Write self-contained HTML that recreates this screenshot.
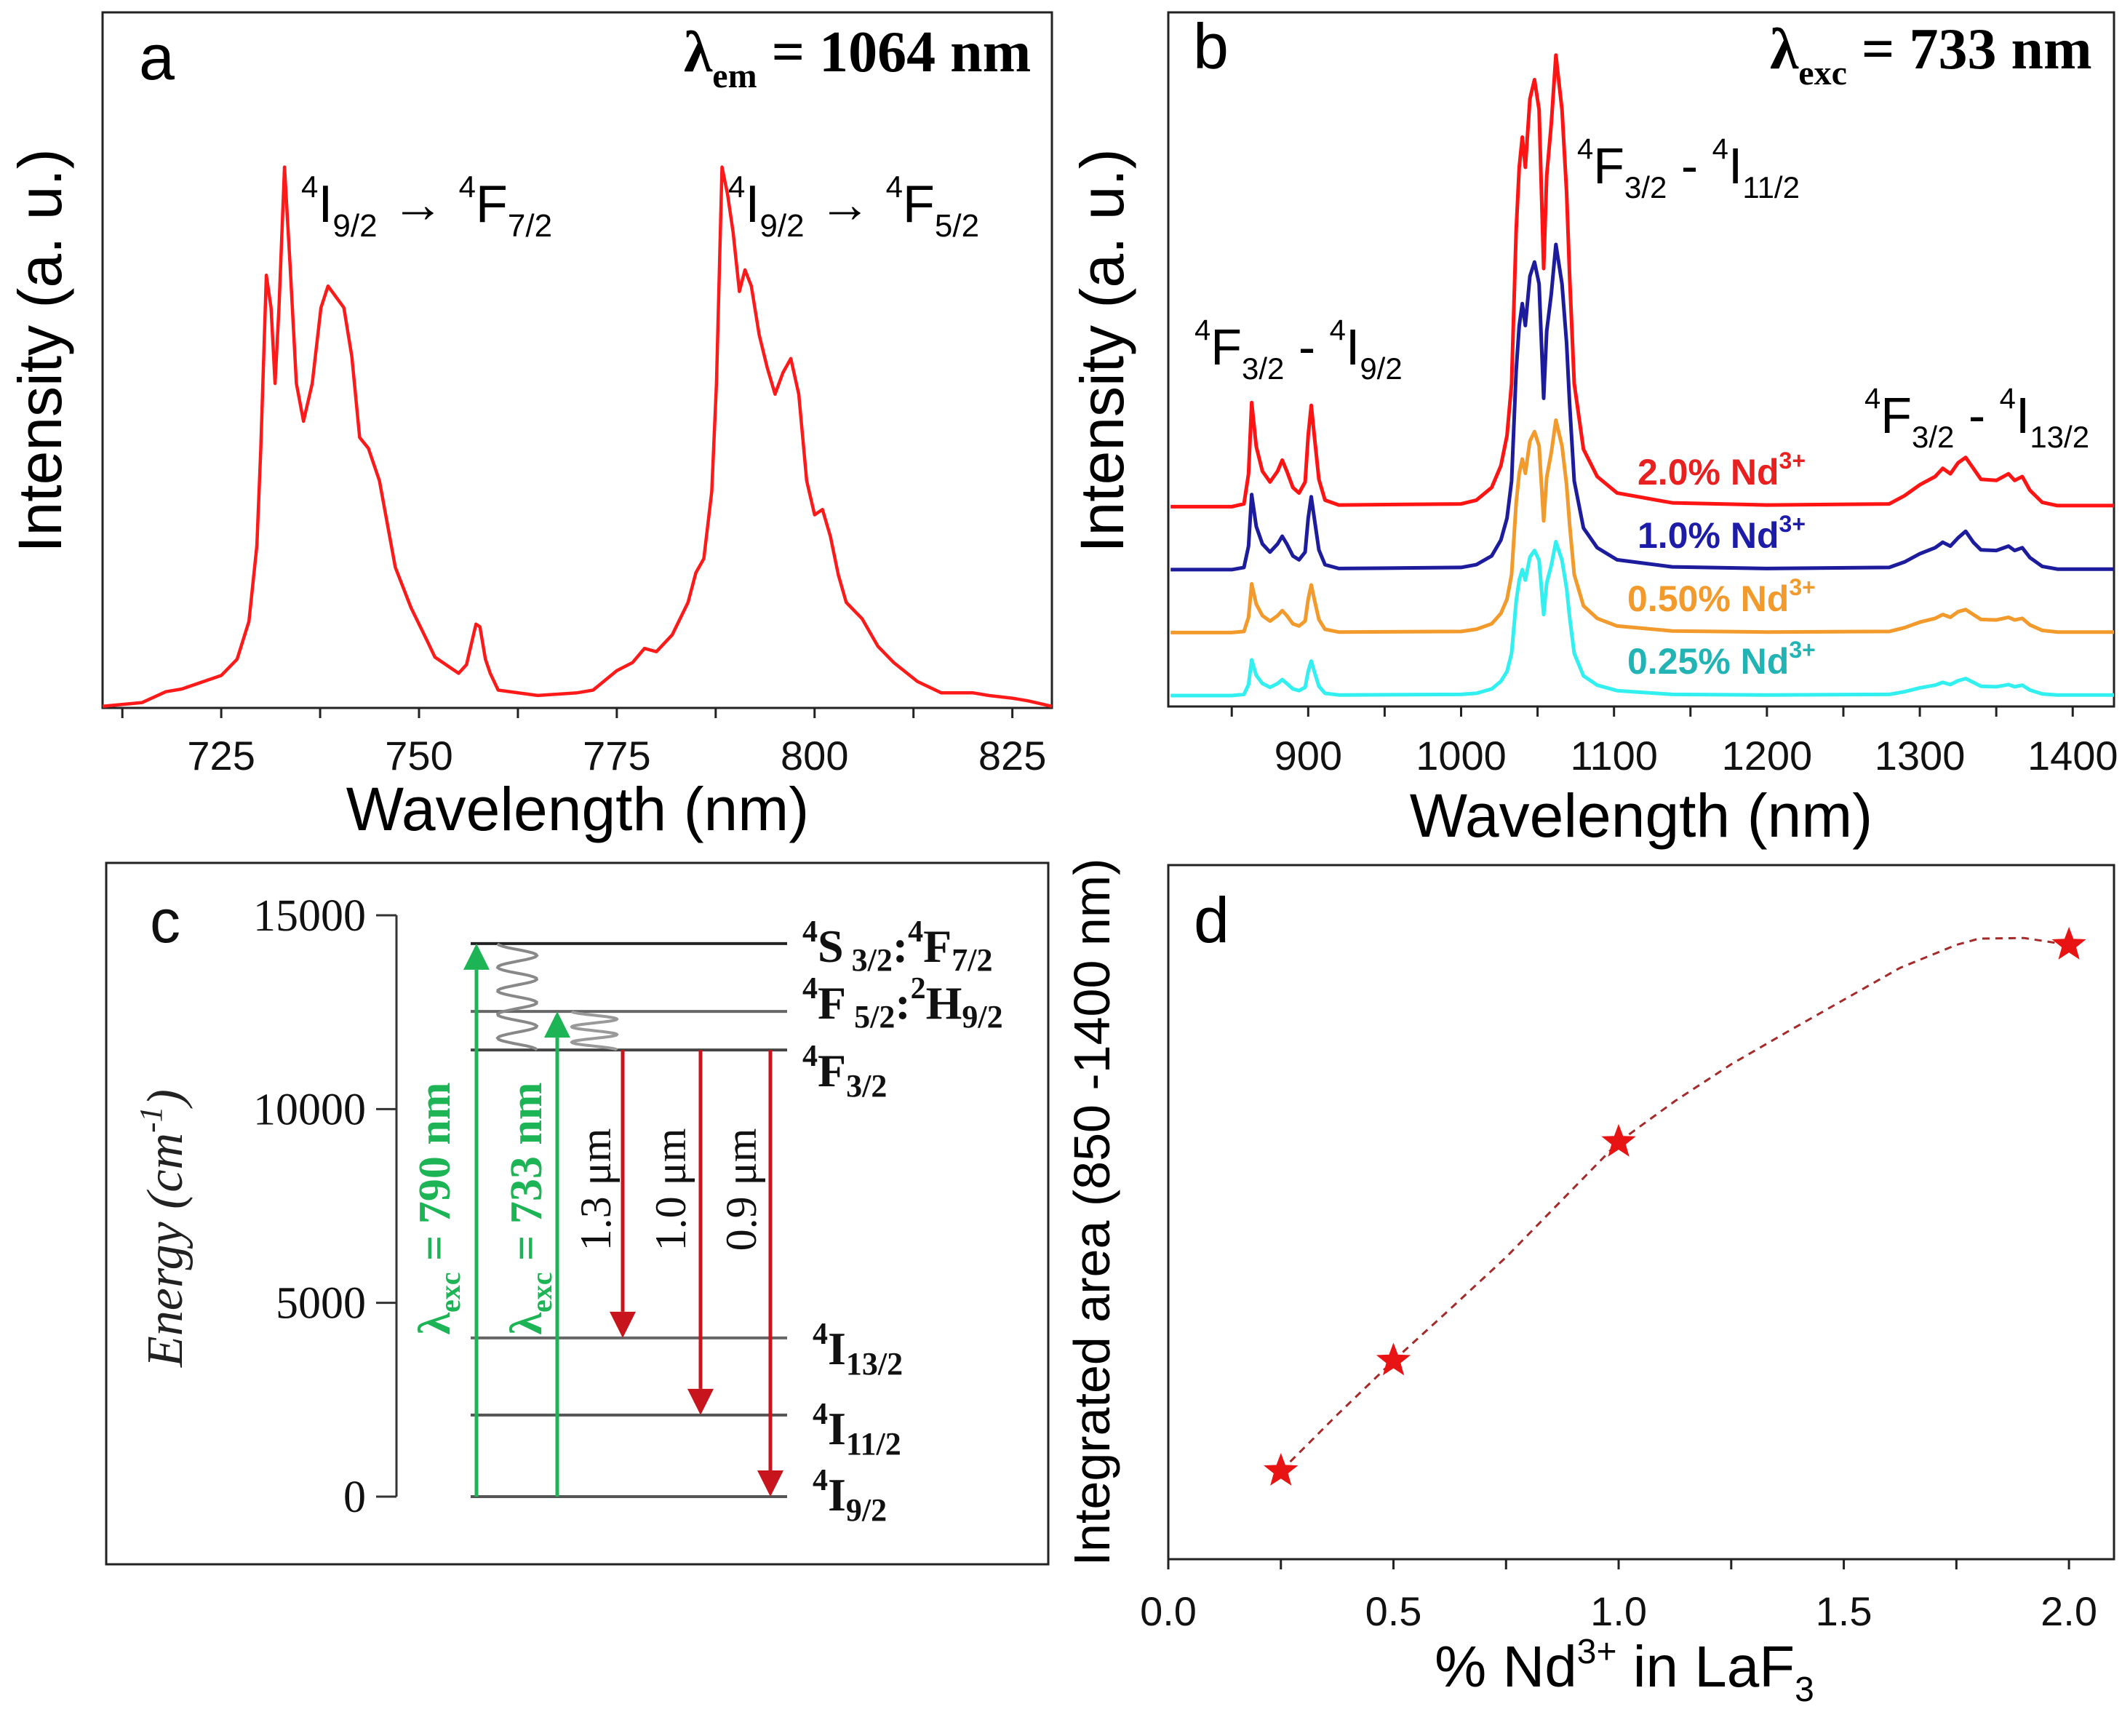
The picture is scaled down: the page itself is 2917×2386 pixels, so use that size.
<!DOCTYPE html>
<html><head><meta charset="utf-8"><style>
html,body{margin:0;padding:0;background:#fff;}
svg{display:block;}
.sans{font-family:"Liberation Sans",Arial,sans-serif;}
.serif{font-family:"Liberation Serif","Times New Roman",serif;}
</style></head><body>
<svg id="fig" xmlns="http://www.w3.org/2000/svg" width="2917" height="2386" viewBox="0 0 2917 2386">
<rect x="0" y="0" width="2917" height="2386" fill="#fff"/>
<g id="pa"></g>
<g id="pb"></g>
<g id="pc"></g>
<g id="pd"></g>

<text class="sans" x="191" y="109" font-size="88">a</text>
<text class="serif" x="940" y="98" font-size="80" font-weight="bold">λ<tspan font-size="48" dy="22">em</tspan><tspan dy="-22"> = 1064 nm</tspan></text>
<text class="sans" x="414" y="305" font-size="72"><tspan font-size="42" dy="-34">4</tspan><tspan dy="34">I</tspan><tspan font-size="44" dy="20">9/2</tspan><tspan dy="-20"> → </tspan><tspan font-size="42" dy="-34">4</tspan><tspan dy="34">F</tspan><tspan font-size="44" dy="20">7/2</tspan></text>
<text class="sans" x="1001" y="305" font-size="72"><tspan font-size="42" dy="-34">4</tspan><tspan dy="34">I</tspan><tspan font-size="44" dy="20">9/2</tspan><tspan dy="-20"> → </tspan><tspan font-size="42" dy="-34">4</tspan><tspan dy="34">F</tspan><tspan font-size="44" dy="20">5/2</tspan></text>
<text class="sans" x="794" y="1141" font-size="84" text-anchor="middle">Wavelength (nm)</text>
<text class="sans" transform="translate(84,482) rotate(-90)" font-size="84" text-anchor="middle">Intensity (a. u.)</text>

<text class="sans" x="1640" y="94" font-size="88">b</text>
<text class="serif" x="2433" y="94" font-size="80" font-weight="bold">λ<tspan font-size="48" dy="22">exc</tspan><tspan dy="-22"> = 733 nm</tspan></text>
<text class="sans" x="2168" y="252" font-size="70"><tspan font-size="40" dy="-34">4</tspan><tspan dy="34">F</tspan><tspan font-size="42" dy="20">3/2</tspan><tspan dy="-20"> - </tspan><tspan font-size="40" dy="-34">4</tspan><tspan dy="34">I</tspan><tspan font-size="42" dy="20">11/2</tspan></text>
<text class="sans" x="1642" y="501" font-size="70"><tspan font-size="40" dy="-34">4</tspan><tspan dy="34">F</tspan><tspan font-size="42" dy="20">3/2</tspan><tspan dy="-20"> - </tspan><tspan font-size="40" dy="-34">4</tspan><tspan dy="34">I</tspan><tspan font-size="42" dy="20">9/2</tspan></text>
<text class="sans" x="2563" y="595" font-size="70"><tspan font-size="40" dy="-34">4</tspan><tspan dy="34">F</tspan><tspan font-size="42" dy="20">3/2</tspan><tspan dy="-20"> - </tspan><tspan font-size="40" dy="-34">4</tspan><tspan dy="34">I</tspan><tspan font-size="42" dy="20">13/2</tspan></text>
<text class="sans" x="2256" y="1150" font-size="84" text-anchor="middle">Wavelength (nm)</text>
<text class="sans" transform="translate(1544,482) rotate(-90)" font-size="84" text-anchor="middle">Intensity (a. u.)</text>

<text class="sans" x="1641" y="1295" font-size="88">d</text>
<text class="sans" x="2233" y="2318" font-size="80" text-anchor="middle">% Nd<tspan font-size="48" dy="-32">3+</tspan><tspan dy="32"> in LaF</tspan><tspan font-size="48" dy="20">3</tspan></text>
<text class="sans" transform="translate(1525,1666) rotate(-90)" font-size="70" text-anchor="middle">Integrated area  (850 -1400 nm)</text>
</svg>
<script>
// ---------------- Panel a data ----------------
const aWavelength=[710,715,718,720,725,727,728.5,729.5,730,730.7,731.3,731.8,732.3,733,733.7,734.5,735.4,736.5,737.6,738.5,739.5,740.5,741.5,742.5,743.6,745,746,747,749,751,752,754,755,756,757.2,757.7,758.4,759,760,765,770,772,775,777,778.5,780,782,784,785,786,787,787.6,788.3,789,789.7,790.5,791.2,792,793,794,795,796,797,798,799,800,801,802,803,804,806,808,810,813,816,820,822,825,827,830];
const aIntensity=[0.3,1,3,3.5,6,9,16,30,48,80,74,60,74,100,82,60,53,60,74,78,76,74,65,50,48,42,34,26,18.5,12.5,9.4,7.4,6.4,8,15.5,15,9,6.4,3.3,2.3,2.8,3.3,6.9,8.4,11,10.4,13.5,19.5,25,27.6,40,60,100,95,88,77,81,78,69,63,58,62,64.6,58,42,35.7,36.7,31.7,24.6,19.5,16.5,11.4,8.4,4.9,2.8,2.8,2.3,1.8,1.3,0.3];
const aTicks=[725,750,775,800,825];
const aTickLabels=["725","750","775","800","825"];

// ---------------- Panel b data ----------------
const bWavelength=[810,850,858,861,863,866,870,875,880,883,886,890,894,898,900,902,904,907,911,920,1000,1010,1020,1026,1030,1033,1036,1038,1040,1042,1045,1048,1051,1054,1056,1059,1062,1066,1069,1071,1074,1080,1089,1102,1138,1200,1280,1290,1300,1310,1315,1320,1325,1330,1335,1340,1350,1358,1362,1367,1372,1380,1390,1427];
const bRed=[0,0,5,60,190,110,65,45,65,85,65,35,25,45,130,185,130,50,12,3,5,12,35,75,130,225,505,620,675,620,745,780,725,435,605,700,825,725,575,420,225,105,55,25,7,3,5,20,40,55,70,60,80,90,70,50,48,60,48,55,30,8,2,2];
const bBlue=[0,0,4,43,137,79,47,32,47,61,47,25,18,32,94,133,94,36,9,2,4,9,25,54,94,162,364,446,486,446,536,562,522,313,436,504,594,522,414,302,162,76,40,18,5,2,4,14,29,40,50,43,58,70,50,36,35,43,35,40,22,6,1,1];
const bOrange=[0,0,2,28,89,52,31,21,31,40,31,16,12,21,61,87,61,24,6,1,2,6,16,35,61,106,237,291,317,291,350,367,341,204,284,329,388,341,270,197,106,49,26,12,3,1,2,9,19,26,33,28,38,42,33,24,23,28,23,26,14,4,1,1];
const bCyan=[0,0,2,20,65,37,22,15,22,29,22,12,9,15,44,63,44,17,4,1,2,4,12,26,44,77,172,211,230,211,253,265,247,148,206,238,281,247,196,143,77,36,19,9,2,1,2,7,14,19,24,20,27,31,24,17,16,20,16,19,10,3,1,1];
const bOffsets=[345,230,115,0];
const bSeriesNames=["2.0% Nd","1.0% Nd","0.50% Nd","0.25% Nd"];
const bTicks=[900,1000,1100,1200,1300,1400];
const bTickLabels=["900","1000","1100","1200","1300","1400"];

// ---------------- Panel c data ----------------
const cLevelNames=["4S3/2:4F7/2","4F5/2:2H9/2","4F3/2","4I13/2","4I11/2","4I9/2"];
const cLevelEnergy=[14270,12520,11525,4096,2106,0];
const cExcFrom=[0,0];
const cExcTo=[14270,12520];
const cEmFrom=[11525,11525,11525];
const cEmTo=[4096,2106,0];
const cTicks=[0,5000,10000,15000];
const cTickLabels=["0","5000","10000","15000"];

// ---------------- Panel d data ----------------
const dConc=[0.25,0.5,1.0,2.0];
const dArea=[12.7,28.6,60.1,88.5];
const dFitX=[0.25,0.375,0.5,0.625,0.75,0.875,1.0,1.125,1.25,1.375,1.5,1.625,1.75,1.8,1.9,2.0];
const dFitY=[12.7,20.8,28.6,36,43.5,51.8,60.1,66,71.3,76,80.6,85.2,88.5,89.4,89.5,88.5];
const dTicks=[0,0.5,1.0,1.5,2.0];
const dTickLabels=["0.0","0.5","1.0","1.5","2.0"];

const NS="http://www.w3.org/2000/svg";
function mk(tag,attrs,parent){const e=document.createElementNS(NS,tag);for(const k in attrs)e.setAttribute(k,attrs[k]);parent.appendChild(e);return e;}
function lin(d0,d1,r0,r1){return v=>r0+(v-d0)*(r1-r0)/(d1-d0);}
function richText(parent,parts){parts.forEach(p=>{const s=mk('tspan',p.a||{},parent);s.textContent=p.t;});}

// ===== Panel a =====
(function(){
 const g=document.getElementById('pa');
 const L=141,R=1446,T=17,B=973;
 const x=lin(710,830,L,R), y=lin(0,128.6,B,T);
 const fr=mk('rect',{x:L,y:T,width:R-L,height:B-T,fill:'none',stroke:'#222','stroke-width':3},g);
 
 
 for(let v=712.5;v<830;v+=12.5){const t=mk('line',{x1:x(v),x2:x(v),y1:B,y2:B+14,stroke:'#222','stroke-width':3},g);
  
  }
 aTicks.forEach((v,i)=>{const t=mk('text',{x:x(v),y:1058,'font-size':56,'text-anchor':'middle',class:'sans',fill:'#111'},g);t.textContent=aTickLabels[i];
  
  });
 const pts=aWavelength.map((w,i)=>x(w).toFixed(1)+','+y(aIntensity[i]).toFixed(1)).join(' ');
 const p=mk('polyline',{points:pts,fill:'none',stroke:'#ff1a1a','stroke-width':4.5,'stroke-linejoin':'round'},g);
 
 
})();

// ===== Panel b =====
(function(){
 const g=document.getElementById('pb');
 const L=1606,R=2906,T=17,B=971;
 const x=lin(808.5,1427,L,R), y=lin(-20,1248,B,T);
 const fr=mk('rect',{x:L,y:T,width:R-L,height:B-T,fill:'none',stroke:'#222','stroke-width':3},g);
 
 
 for(let v=850;v<=1400;v+=50){const t=mk('line',{x1:x(v),x2:x(v),y1:B,y2:B+14,stroke:'#222','stroke-width':3},g);
  
  }
 bTicks.forEach((v,i)=>{const t=mk('text',{x:x(v),y:1058,'font-size':56,'text-anchor':'middle',class:'sans',fill:'#111'},g);t.textContent=bTickLabels[i];
  
  });
 const series=[bRed,bBlue,bOrange,bCyan];
 const cols=['#ff1414','#1c1c9c','#f39a2c','#33f0f0'];
 const labCols=['#e82020','#1c1ca8','#f39a2c','#22b4b4'];
 const names=['series-2.0pct','series-1.0pct','series-0.50pct','series-0.25pct'];
 const labY=[666,753,840,926];
 const labX=[2251,2251,2237,2237];
 series.forEach((s,k)=>{
  const pts=bWavelength.map((w,i)=>x(w).toFixed(1)+','+y(s[i]+bOffsets[k]).toFixed(1)).join(' ');
  const p=mk('polyline',{points:pts,fill:'none',stroke:cols[k],'stroke-width':5,'stroke-linejoin':'round'},g);
  
  
  const t=mk('text',{x:labX[k],y:labY[k],'font-size':50,'font-weight':'bold',class:'sans',fill:labCols[k]},g);
  t.textContent=bSeriesNames[k];
  const sp=mk('tspan',{'font-size':32,dy:-22},t);sp.textContent='3+';
  
  
 });
})();

// ===== Panel c =====
(function(){
 const g=document.getElementById('pc');
 const fr=mk('rect',{x:146,y:1186,width:1295,height:964,fill:'none',stroke:'#222','stroke-width':3},g);
 
 
 const y=lin(0,15000,2057,1258);
 const ax=mk('line',{x1:545,x2:545,y1:y(15000),y2:y(0),stroke:'#333','stroke-width':3},g);
 
 
 cTicks.forEach((v,i)=>{
  const t=mk('line',{x1:517,x2:545,y1:y(v),y2:y(v),stroke:'#333','stroke-width':3},g);
  
  
  const l=mk('text',{x:503,y:y(v)+21,'font-size':62,'text-anchor':'end',class:'serif',fill:'#111'},g);l.textContent=cTickLabels[i];
  
  
 });
 const lab=mk('text',{transform:'translate(250,1688) rotate(-90)','font-size':70,'text-anchor':'middle',class:'serif','font-style':'italic',fill:'#222'},g);
 richText(lab,[{t:'Energy (cm'},{t:'-1',a:{'font-size':44,dy:-28}},{t:')',a:{dy:28}}]);
 
 
 const c=mk('text',{x:206,y:1295,'font-size':84,class:'sans',fill:'#111'},g);c.textContent='c';
 
 
 const lvlCol=['#222','#666','#444','#666','#555','#555'];
 const lvlLabelX=[1103,1103,1103,1117,1117,1117];
 const lvlLabelDy=[25,10,50,36,40,19];
 const sup=(t)=>({t:t,a:{'font-size':42,dy:-28}});
 const main=(t)=>({t:t,a:{dy:28}});
 const sub=(t,d)=>({t:t,a:{'font-size':44,dy:d}});
 const back=(t,d)=>({t:t,a:{dy:-d}});
 const lvlParts=[
  [sup('4'),main('S'),sub(' 3/2',12),back(':',12),sup('4'),main('F'),sub('7/2',12)],
  [sup('4'),main('F'),sub(' 5/2',12),back(':',12),sup('2'),main('H'),sub('9/2',12)],
  [sup('4'),main('F'),sub('3/2',14)],
  [sup('4'),main('I'),sub('13/2',14)],
  [sup('4'),main('I'),sub('11/2',14)],
  [sup('4'),main('I'),sub('9/2',14)]];
 cLevelEnergy.forEach((e,i)=>{
  const l=mk('line',{x1:647,x2:1082,y1:y(e),y2:y(e),stroke:lvlCol[i],'stroke-width':4},g);
  
  
  const t=mk('text',{x:lvlLabelX[i],y:y(e)+lvlLabelDy[i],'font-size':64,'font-weight':'bold',class:'serif',fill:'#111'},g);
  richText(t,lvlParts[i]);
  
  
 });
 function wave(x0,y0,y1,amp,cycles){let d='M'+x0+','+y0;const n=80;for(let i=1;i<=n;i++){const f=i/n;d+=' L'+(x0+amp*(1-Math.cos(2*Math.PI*cycles*f))/2).toFixed(1)+','+(y0+(y1-y0)*f).toFixed(1);}return d;}
 const w1=mk('path',{d:wave(684,y(14270),y(11525),54,4.5),fill:'none',stroke:'#888','stroke-width':4},g);
 
 
 const w2=mk('path',{d:wave(786,y(12520),y(11525),62,2.5),fill:'none',stroke:'#999','stroke-width':4},g);
 
 
 function arrow(xp,e0,e1,col,name){
  const y0=y(e0),y1=y(e1),dir=y1<y0?1:-1,hl=36,hw=18;
  const l=mk('line',{x1:xp,x2:xp,y1:y0,y2:y1+dir*hl,stroke:col,'stroke-width':5},g);
  
  
  const h=mk('polygon',{points:xp+','+y1+' '+(xp-hw)+','+(y1+dir*hl)+' '+(xp+hw)+','+(y1+dir*hl),fill:col},g);
  
  
 }
 const exX=[655,766], emX=[856,963,1059];
 cExcFrom.forEach((e,i)=>arrow(exX[i],e,cExcTo[i],'#1db455','excitation-arrow-'+i));
 cEmFrom.forEach((e,i)=>arrow(emX[i],e,cEmTo[i],'#c8141c','emission-arrow-'+i));
 const exLab=[['790',596],['733',722]];
 exLab.forEach(([v,xx])=>{
  const t=mk('text',{transform:'translate('+(xx+22)+',1661) rotate(-90)','font-size':62,'font-weight':'bold','text-anchor':'middle',class:'serif',fill:'#1db455'},g);
  richText(t,[{t:'λ'},{t:'exc',a:{'font-size':40,dy:14}},{t:' = '+v+' nm',a:{dy:-14}}]);
  
  
 });
 const emLab=[['1.3 μm',819],['1.0 μm',922],['0.9 μm',1019]];
 emLab.forEach(([v,xx])=>{
  const t=mk('text',{transform:'translate('+(xx+20)+',1635) rotate(-90)','font-size':60,'text-anchor':'middle',class:'serif',fill:'#111'},g);
  t.textContent=v;
  
  
 });
})();

// ===== Panel d =====
(function(){
 const g=document.getElementById('pd');
 const L=1606,R=2906,T=1189,B=2143;
 const x=lin(0,2.1,L,R), y=lin(0,100,B,T);
 const fr=mk('rect',{x:L,y:T,width:R-L,height:B-T,fill:'none',stroke:'#222','stroke-width':3},g);
 
 
 for(let v=0;v<=2.01;v+=0.25){const t=mk('line',{x1:x(v),x2:x(v),y1:B,y2:B+14,stroke:'#222','stroke-width':3},g);
  
  }
 dTicks.forEach((v,i)=>{const t=mk('text',{x:x(v),y:2234,'font-size':56,'text-anchor':'middle',class:'sans',fill:'#111'},g);t.textContent=dTickLabels[i];
  
  });
 let d='';dFitX.forEach((v,i)=>{d+=(i?' L':'M')+x(v).toFixed(1)+','+y(dFitY[i]).toFixed(1);});
 const fit=mk('path',{d:d,fill:'none',stroke:'#a52a2a','stroke-width':3,'stroke-dasharray':'10 8'},g);
 
 
 function star(cx,cy,r){let p=[];for(let i=0;i<10;i++){const a=-Math.PI/2+i*Math.PI/5;const rr=i%2?r*0.42:r;p.push((cx+rr*Math.cos(a)).toFixed(1)+','+(cy+rr*Math.sin(a)).toFixed(1));}return p.join(' ');}
 dConc.forEach((v,i)=>{
  const s=mk('polygon',{points:star(x(v),y(dArea[i]),22),fill:'#e81414',stroke:'#e81414','stroke-width':2},g);
  
  
 });
})();
</script>
</body></html>
